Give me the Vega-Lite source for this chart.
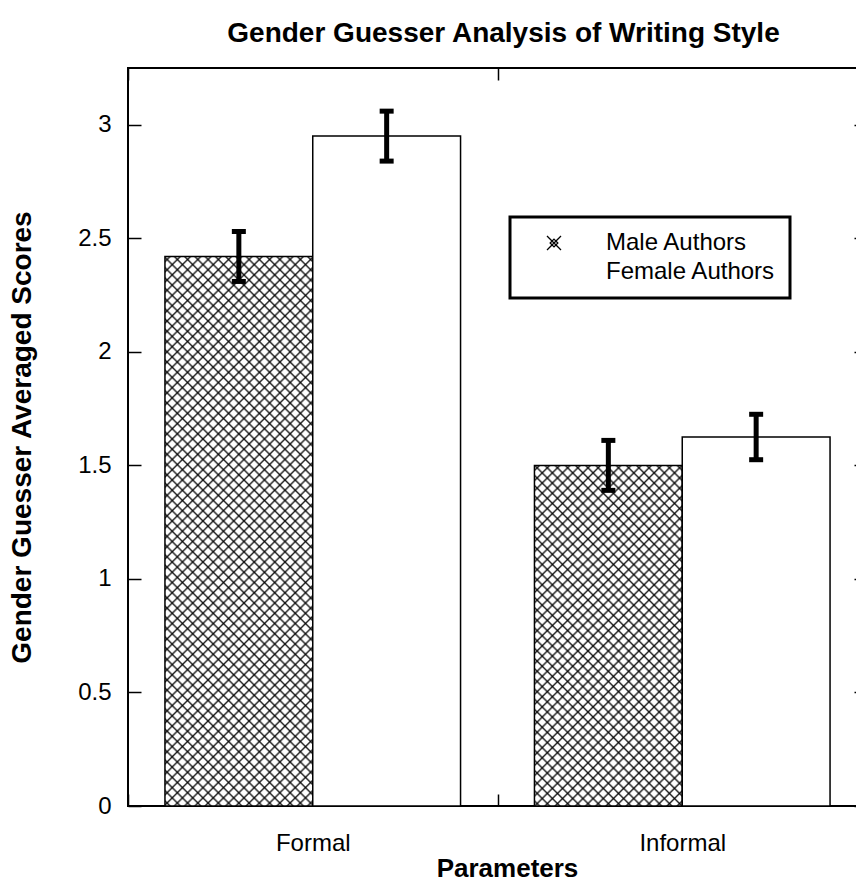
{
  "$schema": "https://vega.github.io/schema/vega-lite/v6.json",
  "width": 739,
  "height": 738,
  "autosize": {"type": "none"},
  "padding": {"left": 128, "top": 68, "right": -11, "bottom": 85},
  "background": "white",
  "config": {
    "font": "Liberation Sans",
    "view": {"stroke": "black", "strokeWidth": 2},
    "axis": {"grid": false, "domain": false},
    "legend": {"strokeWidth": 3}
  },
  "title": {"text": "Gender Guesser Analysis of Writing Style", "fontSize": 28, "fontWeight": "bold", "color": "black", "anchor": "middle", "frame": "group", "offset": 25, "baseline": "alphabetic", "dx": 6, "dy": 28},
  "data": {"values": [
    {"Param": "Formal", "Gender": "Male Authors", "Score": 2.42, "Lo": 2.31, "Hi": 2.53},
    {"Param": "Formal", "Gender": "Female Authors", "Score": 2.95, "Lo": 2.84, "Hi": 3.06},
    {"Param": "Informal", "Gender": "Male Authors", "Score": 1.5, "Lo": 1.39, "Hi": 1.61},
    {"Param": "Informal", "Gender": "Female Authors", "Score": 1.625, "Lo": 1.525, "Hi": 1.725}
  ]},
  "encoding": {
    "x": {"field": "Param", "type": "nominal", "scale": {"paddingInner": 0, "paddingOuter": 0}, "axis": null},
    "xOffset": {"field": "Gender", "type": "nominal", "scale": {"domain": ["Male Authors", "Female Authors"], "paddingInner": 0, "paddingOuter": 0.25}},
    "y": {"field": "Score", "type": "quantitative", "scale": {"domain": [0, 3.25], "nice": false}, "axis": null}
  },
  "layer": [
    {
      "mark": {"type": "bar", "fill": "white", "stroke": "black", "strokeWidth": 1.5},
      "encoding": {
        "x": {"field": "Param", "type": "nominal", "scale": {"paddingInner": 0, "paddingOuter": 0},
          "axis": {"orient": "bottom", "tickBand": "extent", "tickSize": -12, "tickWidth": 1.5, "tickColor": "black", "labelFontSize": 24, "labelColor": "black", "labelPadding": 37, "labelAngle": 0, "title": "Parameters", "titleFontSize": 26, "titleFontWeight": "bold", "titleColor": "black", "titlePadding": 0, "titleX": 379}},
        "y": {"field": "Score", "type": "quantitative", "scale": {"domain": [0, 3.25], "nice": false},
          "axis": {"orient": "left", "values": [0, 0.5, 1, 1.5, 2, 2.5, 3], "format": "~g", "tickSize": -13, "tickWidth": 1.5, "tickColor": "black", "labelFontSize": 24, "labelColor": "black", "labelPadding": 30, "labelOverlap": false, "labelFlush": false, "title": "Gender Guesser Averaged Scores", "titleFontSize": 28, "titleFontWeight": "bold", "titleColor": "black", "titlePadding": 41}}
      }
    },
    {
      "transform": [{"filter": "datum.Gender == 'Male Authors' && datum.Param == 'Formal'"}],
      "mark": {"type": "bar", "strokeWidth": 0, "fill": {"gradient": "linear", "x1": 0, "y1": 0, "x2": 0.31827, "y2": 1.18335, "stops": [
{"offset":0.0044,"color":"rgba(0,0,0,0)"},{"offset":0.0074,"color":"rgba(0,0,0,0.85)"},{"offset":0.0104,"color":"rgba(0,0,0,0)"},
{"offset":0.0191,"color":"rgba(0,0,0,0)"},{"offset":0.0221,"color":"rgba(0,0,0,0.85)"},{"offset":0.0251,"color":"rgba(0,0,0,0)"},
{"offset":0.0338,"color":"rgba(0,0,0,0)"},{"offset":0.0368,"color":"rgba(0,0,0,0.85)"},{"offset":0.0398,"color":"rgba(0,0,0,0)"},
{"offset":0.0485,"color":"rgba(0,0,0,0)"},{"offset":0.0515,"color":"rgba(0,0,0,0.85)"},{"offset":0.0545,"color":"rgba(0,0,0,0)"},
{"offset":0.0632,"color":"rgba(0,0,0,0)"},{"offset":0.0662,"color":"rgba(0,0,0,0.85)"},{"offset":0.0692,"color":"rgba(0,0,0,0)"},
{"offset":0.0779,"color":"rgba(0,0,0,0)"},{"offset":0.0809,"color":"rgba(0,0,0,0.85)"},{"offset":0.0839,"color":"rgba(0,0,0,0)"},
{"offset":0.0926,"color":"rgba(0,0,0,0)"},{"offset":0.0956,"color":"rgba(0,0,0,0.85)"},{"offset":0.0986,"color":"rgba(0,0,0,0)"},
{"offset":0.1073,"color":"rgba(0,0,0,0)"},{"offset":0.1103,"color":"rgba(0,0,0,0.85)"},{"offset":0.1133,"color":"rgba(0,0,0,0)"},
{"offset":0.1220,"color":"rgba(0,0,0,0)"},{"offset":0.1250,"color":"rgba(0,0,0,0.85)"},{"offset":0.1280,"color":"rgba(0,0,0,0)"},
{"offset":0.1367,"color":"rgba(0,0,0,0)"},{"offset":0.1397,"color":"rgba(0,0,0,0.85)"},{"offset":0.1427,"color":"rgba(0,0,0,0)"},
{"offset":0.1514,"color":"rgba(0,0,0,0)"},{"offset":0.1544,"color":"rgba(0,0,0,0.85)"},{"offset":0.1574,"color":"rgba(0,0,0,0)"},
{"offset":0.1661,"color":"rgba(0,0,0,0)"},{"offset":0.1691,"color":"rgba(0,0,0,0.85)"},{"offset":0.1721,"color":"rgba(0,0,0,0)"},
{"offset":0.1808,"color":"rgba(0,0,0,0)"},{"offset":0.1838,"color":"rgba(0,0,0,0.85)"},{"offset":0.1868,"color":"rgba(0,0,0,0)"},
{"offset":0.1955,"color":"rgba(0,0,0,0)"},{"offset":0.1985,"color":"rgba(0,0,0,0.85)"},{"offset":0.2015,"color":"rgba(0,0,0,0)"},
{"offset":0.2102,"color":"rgba(0,0,0,0)"},{"offset":0.2132,"color":"rgba(0,0,0,0.85)"},{"offset":0.2162,"color":"rgba(0,0,0,0)"},
{"offset":0.2249,"color":"rgba(0,0,0,0)"},{"offset":0.2279,"color":"rgba(0,0,0,0.85)"},{"offset":0.2309,"color":"rgba(0,0,0,0)"},
{"offset":0.2396,"color":"rgba(0,0,0,0)"},{"offset":0.2426,"color":"rgba(0,0,0,0.85)"},{"offset":0.2456,"color":"rgba(0,0,0,0)"},
{"offset":0.2544,"color":"rgba(0,0,0,0)"},{"offset":0.2574,"color":"rgba(0,0,0,0.85)"},{"offset":0.2604,"color":"rgba(0,0,0,0)"},
{"offset":0.2691,"color":"rgba(0,0,0,0)"},{"offset":0.2721,"color":"rgba(0,0,0,0.85)"},{"offset":0.2751,"color":"rgba(0,0,0,0)"},
{"offset":0.2838,"color":"rgba(0,0,0,0)"},{"offset":0.2868,"color":"rgba(0,0,0,0.85)"},{"offset":0.2898,"color":"rgba(0,0,0,0)"},
{"offset":0.2985,"color":"rgba(0,0,0,0)"},{"offset":0.3015,"color":"rgba(0,0,0,0.85)"},{"offset":0.3045,"color":"rgba(0,0,0,0)"},
{"offset":0.3132,"color":"rgba(0,0,0,0)"},{"offset":0.3162,"color":"rgba(0,0,0,0.85)"},{"offset":0.3192,"color":"rgba(0,0,0,0)"},
{"offset":0.3279,"color":"rgba(0,0,0,0)"},{"offset":0.3309,"color":"rgba(0,0,0,0.85)"},{"offset":0.3339,"color":"rgba(0,0,0,0)"},
{"offset":0.3426,"color":"rgba(0,0,0,0)"},{"offset":0.3456,"color":"rgba(0,0,0,0.85)"},{"offset":0.3486,"color":"rgba(0,0,0,0)"},
{"offset":0.3573,"color":"rgba(0,0,0,0)"},{"offset":0.3603,"color":"rgba(0,0,0,0.85)"},{"offset":0.3633,"color":"rgba(0,0,0,0)"},
{"offset":0.3720,"color":"rgba(0,0,0,0)"},{"offset":0.3750,"color":"rgba(0,0,0,0.85)"},{"offset":0.3780,"color":"rgba(0,0,0,0)"},
{"offset":0.3867,"color":"rgba(0,0,0,0)"},{"offset":0.3897,"color":"rgba(0,0,0,0.85)"},{"offset":0.3927,"color":"rgba(0,0,0,0)"},
{"offset":0.4014,"color":"rgba(0,0,0,0)"},{"offset":0.4044,"color":"rgba(0,0,0,0.85)"},{"offset":0.4074,"color":"rgba(0,0,0,0)"},
{"offset":0.4161,"color":"rgba(0,0,0,0)"},{"offset":0.4191,"color":"rgba(0,0,0,0.85)"},{"offset":0.4221,"color":"rgba(0,0,0,0)"},
{"offset":0.4308,"color":"rgba(0,0,0,0)"},{"offset":0.4338,"color":"rgba(0,0,0,0.85)"},{"offset":0.4368,"color":"rgba(0,0,0,0)"},
{"offset":0.4455,"color":"rgba(0,0,0,0)"},{"offset":0.4485,"color":"rgba(0,0,0,0.85)"},{"offset":0.4515,"color":"rgba(0,0,0,0)"},
{"offset":0.4602,"color":"rgba(0,0,0,0)"},{"offset":0.4632,"color":"rgba(0,0,0,0.85)"},{"offset":0.4662,"color":"rgba(0,0,0,0)"},
{"offset":0.4749,"color":"rgba(0,0,0,0)"},{"offset":0.4779,"color":"rgba(0,0,0,0.85)"},{"offset":0.4809,"color":"rgba(0,0,0,0)"},
{"offset":0.4896,"color":"rgba(0,0,0,0)"},{"offset":0.4926,"color":"rgba(0,0,0,0.85)"},{"offset":0.4956,"color":"rgba(0,0,0,0)"},
{"offset":0.5044,"color":"rgba(0,0,0,0)"},{"offset":0.5074,"color":"rgba(0,0,0,0.85)"},{"offset":0.5104,"color":"rgba(0,0,0,0)"},
{"offset":0.5191,"color":"rgba(0,0,0,0)"},{"offset":0.5221,"color":"rgba(0,0,0,0.85)"},{"offset":0.5251,"color":"rgba(0,0,0,0)"},
{"offset":0.5338,"color":"rgba(0,0,0,0)"},{"offset":0.5368,"color":"rgba(0,0,0,0.85)"},{"offset":0.5398,"color":"rgba(0,0,0,0)"},
{"offset":0.5485,"color":"rgba(0,0,0,0)"},{"offset":0.5515,"color":"rgba(0,0,0,0.85)"},{"offset":0.5545,"color":"rgba(0,0,0,0)"},
{"offset":0.5632,"color":"rgba(0,0,0,0)"},{"offset":0.5662,"color":"rgba(0,0,0,0.85)"},{"offset":0.5692,"color":"rgba(0,0,0,0)"},
{"offset":0.5779,"color":"rgba(0,0,0,0)"},{"offset":0.5809,"color":"rgba(0,0,0,0.85)"},{"offset":0.5839,"color":"rgba(0,0,0,0)"},
{"offset":0.5926,"color":"rgba(0,0,0,0)"},{"offset":0.5956,"color":"rgba(0,0,0,0.85)"},{"offset":0.5986,"color":"rgba(0,0,0,0)"},
{"offset":0.6073,"color":"rgba(0,0,0,0)"},{"offset":0.6103,"color":"rgba(0,0,0,0.85)"},{"offset":0.6133,"color":"rgba(0,0,0,0)"},
{"offset":0.6220,"color":"rgba(0,0,0,0)"},{"offset":0.6250,"color":"rgba(0,0,0,0.85)"},{"offset":0.6280,"color":"rgba(0,0,0,0)"},
{"offset":0.6367,"color":"rgba(0,0,0,0)"},{"offset":0.6397,"color":"rgba(0,0,0,0.85)"},{"offset":0.6427,"color":"rgba(0,0,0,0)"},
{"offset":0.6514,"color":"rgba(0,0,0,0)"},{"offset":0.6544,"color":"rgba(0,0,0,0.85)"},{"offset":0.6574,"color":"rgba(0,0,0,0)"},
{"offset":0.6661,"color":"rgba(0,0,0,0)"},{"offset":0.6691,"color":"rgba(0,0,0,0.85)"},{"offset":0.6721,"color":"rgba(0,0,0,0)"},
{"offset":0.6808,"color":"rgba(0,0,0,0)"},{"offset":0.6838,"color":"rgba(0,0,0,0.85)"},{"offset":0.6868,"color":"rgba(0,0,0,0)"},
{"offset":0.6955,"color":"rgba(0,0,0,0)"},{"offset":0.6985,"color":"rgba(0,0,0,0.85)"},{"offset":0.7015,"color":"rgba(0,0,0,0)"},
{"offset":0.7102,"color":"rgba(0,0,0,0)"},{"offset":0.7132,"color":"rgba(0,0,0,0.85)"},{"offset":0.7162,"color":"rgba(0,0,0,0)"},
{"offset":0.7249,"color":"rgba(0,0,0,0)"},{"offset":0.7279,"color":"rgba(0,0,0,0.85)"},{"offset":0.7309,"color":"rgba(0,0,0,0)"},
{"offset":0.7396,"color":"rgba(0,0,0,0)"},{"offset":0.7426,"color":"rgba(0,0,0,0.85)"},{"offset":0.7456,"color":"rgba(0,0,0,0)"},
{"offset":0.7544,"color":"rgba(0,0,0,0)"},{"offset":0.7574,"color":"rgba(0,0,0,0.85)"},{"offset":0.7604,"color":"rgba(0,0,0,0)"},
{"offset":0.7691,"color":"rgba(0,0,0,0)"},{"offset":0.7721,"color":"rgba(0,0,0,0.85)"},{"offset":0.7751,"color":"rgba(0,0,0,0)"},
{"offset":0.7838,"color":"rgba(0,0,0,0)"},{"offset":0.7868,"color":"rgba(0,0,0,0.85)"},{"offset":0.7898,"color":"rgba(0,0,0,0)"},
{"offset":0.7985,"color":"rgba(0,0,0,0)"},{"offset":0.8015,"color":"rgba(0,0,0,0.85)"},{"offset":0.8045,"color":"rgba(0,0,0,0)"},
{"offset":0.8132,"color":"rgba(0,0,0,0)"},{"offset":0.8162,"color":"rgba(0,0,0,0.85)"},{"offset":0.8192,"color":"rgba(0,0,0,0)"},
{"offset":0.8279,"color":"rgba(0,0,0,0)"},{"offset":0.8309,"color":"rgba(0,0,0,0.85)"},{"offset":0.8339,"color":"rgba(0,0,0,0)"},
{"offset":0.8426,"color":"rgba(0,0,0,0)"},{"offset":0.8456,"color":"rgba(0,0,0,0.85)"},{"offset":0.8486,"color":"rgba(0,0,0,0)"},
{"offset":0.8573,"color":"rgba(0,0,0,0)"},{"offset":0.8603,"color":"rgba(0,0,0,0.85)"},{"offset":0.8633,"color":"rgba(0,0,0,0)"},
{"offset":0.8720,"color":"rgba(0,0,0,0)"},{"offset":0.8750,"color":"rgba(0,0,0,0.85)"},{"offset":0.8780,"color":"rgba(0,0,0,0)"},
{"offset":0.8867,"color":"rgba(0,0,0,0)"},{"offset":0.8897,"color":"rgba(0,0,0,0.85)"},{"offset":0.8927,"color":"rgba(0,0,0,0)"},
{"offset":0.9014,"color":"rgba(0,0,0,0)"},{"offset":0.9044,"color":"rgba(0,0,0,0.85)"},{"offset":0.9074,"color":"rgba(0,0,0,0)"},
{"offset":0.9161,"color":"rgba(0,0,0,0)"},{"offset":0.9191,"color":"rgba(0,0,0,0.85)"},{"offset":0.9221,"color":"rgba(0,0,0,0)"},
{"offset":0.9308,"color":"rgba(0,0,0,0)"},{"offset":0.9338,"color":"rgba(0,0,0,0.85)"},{"offset":0.9368,"color":"rgba(0,0,0,0)"},
{"offset":0.9455,"color":"rgba(0,0,0,0)"},{"offset":0.9485,"color":"rgba(0,0,0,0.85)"},{"offset":0.9515,"color":"rgba(0,0,0,0)"},
{"offset":0.9602,"color":"rgba(0,0,0,0)"},{"offset":0.9632,"color":"rgba(0,0,0,0.85)"},{"offset":0.9662,"color":"rgba(0,0,0,0)"},
{"offset":0.9749,"color":"rgba(0,0,0,0)"},{"offset":0.9779,"color":"rgba(0,0,0,0.85)"},{"offset":0.9809,"color":"rgba(0,0,0,0)"},
{"offset":0.9896,"color":"rgba(0,0,0,0)"},{"offset":0.9926,"color":"rgba(0,0,0,0.85)"},{"offset":0.9956,"color":"rgba(0,0,0,0)"}
      ]}}
    },
    {
      "transform": [{"filter": "datum.Gender == 'Male Authors' && datum.Param == 'Formal'"}],
      "mark": {"type": "bar", "strokeWidth": 0, "fill": {"gradient": "linear", "x1": 0, "y1": 1, "x2": 0.31827, "y2": -0.18335, "stops": [
{"offset":0.0044,"color":"rgba(0,0,0,0)"},{"offset":0.0074,"color":"rgba(0,0,0,0.85)"},{"offset":0.0104,"color":"rgba(0,0,0,0)"},
{"offset":0.0191,"color":"rgba(0,0,0,0)"},{"offset":0.0221,"color":"rgba(0,0,0,0.85)"},{"offset":0.0251,"color":"rgba(0,0,0,0)"},
{"offset":0.0338,"color":"rgba(0,0,0,0)"},{"offset":0.0368,"color":"rgba(0,0,0,0.85)"},{"offset":0.0398,"color":"rgba(0,0,0,0)"},
{"offset":0.0485,"color":"rgba(0,0,0,0)"},{"offset":0.0515,"color":"rgba(0,0,0,0.85)"},{"offset":0.0545,"color":"rgba(0,0,0,0)"},
{"offset":0.0632,"color":"rgba(0,0,0,0)"},{"offset":0.0662,"color":"rgba(0,0,0,0.85)"},{"offset":0.0692,"color":"rgba(0,0,0,0)"},
{"offset":0.0779,"color":"rgba(0,0,0,0)"},{"offset":0.0809,"color":"rgba(0,0,0,0.85)"},{"offset":0.0839,"color":"rgba(0,0,0,0)"},
{"offset":0.0926,"color":"rgba(0,0,0,0)"},{"offset":0.0956,"color":"rgba(0,0,0,0.85)"},{"offset":0.0986,"color":"rgba(0,0,0,0)"},
{"offset":0.1073,"color":"rgba(0,0,0,0)"},{"offset":0.1103,"color":"rgba(0,0,0,0.85)"},{"offset":0.1133,"color":"rgba(0,0,0,0)"},
{"offset":0.1220,"color":"rgba(0,0,0,0)"},{"offset":0.1250,"color":"rgba(0,0,0,0.85)"},{"offset":0.1280,"color":"rgba(0,0,0,0)"},
{"offset":0.1367,"color":"rgba(0,0,0,0)"},{"offset":0.1397,"color":"rgba(0,0,0,0.85)"},{"offset":0.1427,"color":"rgba(0,0,0,0)"},
{"offset":0.1514,"color":"rgba(0,0,0,0)"},{"offset":0.1544,"color":"rgba(0,0,0,0.85)"},{"offset":0.1574,"color":"rgba(0,0,0,0)"},
{"offset":0.1661,"color":"rgba(0,0,0,0)"},{"offset":0.1691,"color":"rgba(0,0,0,0.85)"},{"offset":0.1721,"color":"rgba(0,0,0,0)"},
{"offset":0.1808,"color":"rgba(0,0,0,0)"},{"offset":0.1838,"color":"rgba(0,0,0,0.85)"},{"offset":0.1868,"color":"rgba(0,0,0,0)"},
{"offset":0.1955,"color":"rgba(0,0,0,0)"},{"offset":0.1985,"color":"rgba(0,0,0,0.85)"},{"offset":0.2015,"color":"rgba(0,0,0,0)"},
{"offset":0.2102,"color":"rgba(0,0,0,0)"},{"offset":0.2132,"color":"rgba(0,0,0,0.85)"},{"offset":0.2162,"color":"rgba(0,0,0,0)"},
{"offset":0.2249,"color":"rgba(0,0,0,0)"},{"offset":0.2279,"color":"rgba(0,0,0,0.85)"},{"offset":0.2309,"color":"rgba(0,0,0,0)"},
{"offset":0.2396,"color":"rgba(0,0,0,0)"},{"offset":0.2426,"color":"rgba(0,0,0,0.85)"},{"offset":0.2456,"color":"rgba(0,0,0,0)"},
{"offset":0.2544,"color":"rgba(0,0,0,0)"},{"offset":0.2574,"color":"rgba(0,0,0,0.85)"},{"offset":0.2604,"color":"rgba(0,0,0,0)"},
{"offset":0.2691,"color":"rgba(0,0,0,0)"},{"offset":0.2721,"color":"rgba(0,0,0,0.85)"},{"offset":0.2751,"color":"rgba(0,0,0,0)"},
{"offset":0.2838,"color":"rgba(0,0,0,0)"},{"offset":0.2868,"color":"rgba(0,0,0,0.85)"},{"offset":0.2898,"color":"rgba(0,0,0,0)"},
{"offset":0.2985,"color":"rgba(0,0,0,0)"},{"offset":0.3015,"color":"rgba(0,0,0,0.85)"},{"offset":0.3045,"color":"rgba(0,0,0,0)"},
{"offset":0.3132,"color":"rgba(0,0,0,0)"},{"offset":0.3162,"color":"rgba(0,0,0,0.85)"},{"offset":0.3192,"color":"rgba(0,0,0,0)"},
{"offset":0.3279,"color":"rgba(0,0,0,0)"},{"offset":0.3309,"color":"rgba(0,0,0,0.85)"},{"offset":0.3339,"color":"rgba(0,0,0,0)"},
{"offset":0.3426,"color":"rgba(0,0,0,0)"},{"offset":0.3456,"color":"rgba(0,0,0,0.85)"},{"offset":0.3486,"color":"rgba(0,0,0,0)"},
{"offset":0.3573,"color":"rgba(0,0,0,0)"},{"offset":0.3603,"color":"rgba(0,0,0,0.85)"},{"offset":0.3633,"color":"rgba(0,0,0,0)"},
{"offset":0.3720,"color":"rgba(0,0,0,0)"},{"offset":0.3750,"color":"rgba(0,0,0,0.85)"},{"offset":0.3780,"color":"rgba(0,0,0,0)"},
{"offset":0.3867,"color":"rgba(0,0,0,0)"},{"offset":0.3897,"color":"rgba(0,0,0,0.85)"},{"offset":0.3927,"color":"rgba(0,0,0,0)"},
{"offset":0.4014,"color":"rgba(0,0,0,0)"},{"offset":0.4044,"color":"rgba(0,0,0,0.85)"},{"offset":0.4074,"color":"rgba(0,0,0,0)"},
{"offset":0.4161,"color":"rgba(0,0,0,0)"},{"offset":0.4191,"color":"rgba(0,0,0,0.85)"},{"offset":0.4221,"color":"rgba(0,0,0,0)"},
{"offset":0.4308,"color":"rgba(0,0,0,0)"},{"offset":0.4338,"color":"rgba(0,0,0,0.85)"},{"offset":0.4368,"color":"rgba(0,0,0,0)"},
{"offset":0.4455,"color":"rgba(0,0,0,0)"},{"offset":0.4485,"color":"rgba(0,0,0,0.85)"},{"offset":0.4515,"color":"rgba(0,0,0,0)"},
{"offset":0.4602,"color":"rgba(0,0,0,0)"},{"offset":0.4632,"color":"rgba(0,0,0,0.85)"},{"offset":0.4662,"color":"rgba(0,0,0,0)"},
{"offset":0.4749,"color":"rgba(0,0,0,0)"},{"offset":0.4779,"color":"rgba(0,0,0,0.85)"},{"offset":0.4809,"color":"rgba(0,0,0,0)"},
{"offset":0.4896,"color":"rgba(0,0,0,0)"},{"offset":0.4926,"color":"rgba(0,0,0,0.85)"},{"offset":0.4956,"color":"rgba(0,0,0,0)"},
{"offset":0.5044,"color":"rgba(0,0,0,0)"},{"offset":0.5074,"color":"rgba(0,0,0,0.85)"},{"offset":0.5104,"color":"rgba(0,0,0,0)"},
{"offset":0.5191,"color":"rgba(0,0,0,0)"},{"offset":0.5221,"color":"rgba(0,0,0,0.85)"},{"offset":0.5251,"color":"rgba(0,0,0,0)"},
{"offset":0.5338,"color":"rgba(0,0,0,0)"},{"offset":0.5368,"color":"rgba(0,0,0,0.85)"},{"offset":0.5398,"color":"rgba(0,0,0,0)"},
{"offset":0.5485,"color":"rgba(0,0,0,0)"},{"offset":0.5515,"color":"rgba(0,0,0,0.85)"},{"offset":0.5545,"color":"rgba(0,0,0,0)"},
{"offset":0.5632,"color":"rgba(0,0,0,0)"},{"offset":0.5662,"color":"rgba(0,0,0,0.85)"},{"offset":0.5692,"color":"rgba(0,0,0,0)"},
{"offset":0.5779,"color":"rgba(0,0,0,0)"},{"offset":0.5809,"color":"rgba(0,0,0,0.85)"},{"offset":0.5839,"color":"rgba(0,0,0,0)"},
{"offset":0.5926,"color":"rgba(0,0,0,0)"},{"offset":0.5956,"color":"rgba(0,0,0,0.85)"},{"offset":0.5986,"color":"rgba(0,0,0,0)"},
{"offset":0.6073,"color":"rgba(0,0,0,0)"},{"offset":0.6103,"color":"rgba(0,0,0,0.85)"},{"offset":0.6133,"color":"rgba(0,0,0,0)"},
{"offset":0.6220,"color":"rgba(0,0,0,0)"},{"offset":0.6250,"color":"rgba(0,0,0,0.85)"},{"offset":0.6280,"color":"rgba(0,0,0,0)"},
{"offset":0.6367,"color":"rgba(0,0,0,0)"},{"offset":0.6397,"color":"rgba(0,0,0,0.85)"},{"offset":0.6427,"color":"rgba(0,0,0,0)"},
{"offset":0.6514,"color":"rgba(0,0,0,0)"},{"offset":0.6544,"color":"rgba(0,0,0,0.85)"},{"offset":0.6574,"color":"rgba(0,0,0,0)"},
{"offset":0.6661,"color":"rgba(0,0,0,0)"},{"offset":0.6691,"color":"rgba(0,0,0,0.85)"},{"offset":0.6721,"color":"rgba(0,0,0,0)"},
{"offset":0.6808,"color":"rgba(0,0,0,0)"},{"offset":0.6838,"color":"rgba(0,0,0,0.85)"},{"offset":0.6868,"color":"rgba(0,0,0,0)"},
{"offset":0.6955,"color":"rgba(0,0,0,0)"},{"offset":0.6985,"color":"rgba(0,0,0,0.85)"},{"offset":0.7015,"color":"rgba(0,0,0,0)"},
{"offset":0.7102,"color":"rgba(0,0,0,0)"},{"offset":0.7132,"color":"rgba(0,0,0,0.85)"},{"offset":0.7162,"color":"rgba(0,0,0,0)"},
{"offset":0.7249,"color":"rgba(0,0,0,0)"},{"offset":0.7279,"color":"rgba(0,0,0,0.85)"},{"offset":0.7309,"color":"rgba(0,0,0,0)"},
{"offset":0.7396,"color":"rgba(0,0,0,0)"},{"offset":0.7426,"color":"rgba(0,0,0,0.85)"},{"offset":0.7456,"color":"rgba(0,0,0,0)"},
{"offset":0.7544,"color":"rgba(0,0,0,0)"},{"offset":0.7574,"color":"rgba(0,0,0,0.85)"},{"offset":0.7604,"color":"rgba(0,0,0,0)"},
{"offset":0.7691,"color":"rgba(0,0,0,0)"},{"offset":0.7721,"color":"rgba(0,0,0,0.85)"},{"offset":0.7751,"color":"rgba(0,0,0,0)"},
{"offset":0.7838,"color":"rgba(0,0,0,0)"},{"offset":0.7868,"color":"rgba(0,0,0,0.85)"},{"offset":0.7898,"color":"rgba(0,0,0,0)"},
{"offset":0.7985,"color":"rgba(0,0,0,0)"},{"offset":0.8015,"color":"rgba(0,0,0,0.85)"},{"offset":0.8045,"color":"rgba(0,0,0,0)"},
{"offset":0.8132,"color":"rgba(0,0,0,0)"},{"offset":0.8162,"color":"rgba(0,0,0,0.85)"},{"offset":0.8192,"color":"rgba(0,0,0,0)"},
{"offset":0.8279,"color":"rgba(0,0,0,0)"},{"offset":0.8309,"color":"rgba(0,0,0,0.85)"},{"offset":0.8339,"color":"rgba(0,0,0,0)"},
{"offset":0.8426,"color":"rgba(0,0,0,0)"},{"offset":0.8456,"color":"rgba(0,0,0,0.85)"},{"offset":0.8486,"color":"rgba(0,0,0,0)"},
{"offset":0.8573,"color":"rgba(0,0,0,0)"},{"offset":0.8603,"color":"rgba(0,0,0,0.85)"},{"offset":0.8633,"color":"rgba(0,0,0,0)"},
{"offset":0.8720,"color":"rgba(0,0,0,0)"},{"offset":0.8750,"color":"rgba(0,0,0,0.85)"},{"offset":0.8780,"color":"rgba(0,0,0,0)"},
{"offset":0.8867,"color":"rgba(0,0,0,0)"},{"offset":0.8897,"color":"rgba(0,0,0,0.85)"},{"offset":0.8927,"color":"rgba(0,0,0,0)"},
{"offset":0.9014,"color":"rgba(0,0,0,0)"},{"offset":0.9044,"color":"rgba(0,0,0,0.85)"},{"offset":0.9074,"color":"rgba(0,0,0,0)"},
{"offset":0.9161,"color":"rgba(0,0,0,0)"},{"offset":0.9191,"color":"rgba(0,0,0,0.85)"},{"offset":0.9221,"color":"rgba(0,0,0,0)"},
{"offset":0.9308,"color":"rgba(0,0,0,0)"},{"offset":0.9338,"color":"rgba(0,0,0,0.85)"},{"offset":0.9368,"color":"rgba(0,0,0,0)"},
{"offset":0.9455,"color":"rgba(0,0,0,0)"},{"offset":0.9485,"color":"rgba(0,0,0,0.85)"},{"offset":0.9515,"color":"rgba(0,0,0,0)"},
{"offset":0.9602,"color":"rgba(0,0,0,0)"},{"offset":0.9632,"color":"rgba(0,0,0,0.85)"},{"offset":0.9662,"color":"rgba(0,0,0,0)"},
{"offset":0.9749,"color":"rgba(0,0,0,0)"},{"offset":0.9779,"color":"rgba(0,0,0,0.85)"},{"offset":0.9809,"color":"rgba(0,0,0,0)"},
{"offset":0.9896,"color":"rgba(0,0,0,0)"},{"offset":0.9926,"color":"rgba(0,0,0,0.85)"},{"offset":0.9956,"color":"rgba(0,0,0,0)"}
      ]}}
    },
    {
      "transform": [{"filter": "datum.Gender == 'Male Authors' && datum.Param == 'Informal'"}],
      "mark": {"type": "bar", "strokeWidth": 0, "fill": {"gradient": "linear", "x1": 0, "y1": 0, "x2": 0.52361, "y2": 1.20671, "stops": [
{"offset":0.0061,"color":"rgba(0,0,0,0)"},{"offset":0.0104,"color":"rgba(0,0,0,0.85)"},{"offset":0.0147,"color":"rgba(0,0,0,0)"},
{"offset":0.0270,"color":"rgba(0,0,0,0)"},{"offset":0.0313,"color":"rgba(0,0,0,0.85)"},{"offset":0.0356,"color":"rgba(0,0,0,0)"},
{"offset":0.0478,"color":"rgba(0,0,0,0)"},{"offset":0.0521,"color":"rgba(0,0,0,0.85)"},{"offset":0.0564,"color":"rgba(0,0,0,0)"},
{"offset":0.0686,"color":"rgba(0,0,0,0)"},{"offset":0.0729,"color":"rgba(0,0,0,0.85)"},{"offset":0.0772,"color":"rgba(0,0,0,0)"},
{"offset":0.0895,"color":"rgba(0,0,0,0)"},{"offset":0.0938,"color":"rgba(0,0,0,0.85)"},{"offset":0.0981,"color":"rgba(0,0,0,0)"},
{"offset":0.1103,"color":"rgba(0,0,0,0)"},{"offset":0.1146,"color":"rgba(0,0,0,0.85)"},{"offset":0.1189,"color":"rgba(0,0,0,0)"},
{"offset":0.1311,"color":"rgba(0,0,0,0)"},{"offset":0.1354,"color":"rgba(0,0,0,0.85)"},{"offset":0.1397,"color":"rgba(0,0,0,0)"},
{"offset":0.1520,"color":"rgba(0,0,0,0)"},{"offset":0.1563,"color":"rgba(0,0,0,0.85)"},{"offset":0.1606,"color":"rgba(0,0,0,0)"},
{"offset":0.1728,"color":"rgba(0,0,0,0)"},{"offset":0.1771,"color":"rgba(0,0,0,0.85)"},{"offset":0.1814,"color":"rgba(0,0,0,0)"},
{"offset":0.1936,"color":"rgba(0,0,0,0)"},{"offset":0.1979,"color":"rgba(0,0,0,0.85)"},{"offset":0.2022,"color":"rgba(0,0,0,0)"},
{"offset":0.2145,"color":"rgba(0,0,0,0)"},{"offset":0.2188,"color":"rgba(0,0,0,0.85)"},{"offset":0.2231,"color":"rgba(0,0,0,0)"},
{"offset":0.2353,"color":"rgba(0,0,0,0)"},{"offset":0.2396,"color":"rgba(0,0,0,0.85)"},{"offset":0.2439,"color":"rgba(0,0,0,0)"},
{"offset":0.2561,"color":"rgba(0,0,0,0)"},{"offset":0.2604,"color":"rgba(0,0,0,0.85)"},{"offset":0.2647,"color":"rgba(0,0,0,0)"},
{"offset":0.2770,"color":"rgba(0,0,0,0)"},{"offset":0.2813,"color":"rgba(0,0,0,0.85)"},{"offset":0.2856,"color":"rgba(0,0,0,0)"},
{"offset":0.2978,"color":"rgba(0,0,0,0)"},{"offset":0.3021,"color":"rgba(0,0,0,0.85)"},{"offset":0.3064,"color":"rgba(0,0,0,0)"},
{"offset":0.3186,"color":"rgba(0,0,0,0)"},{"offset":0.3229,"color":"rgba(0,0,0,0.85)"},{"offset":0.3272,"color":"rgba(0,0,0,0)"},
{"offset":0.3395,"color":"rgba(0,0,0,0)"},{"offset":0.3438,"color":"rgba(0,0,0,0.85)"},{"offset":0.3481,"color":"rgba(0,0,0,0)"},
{"offset":0.3603,"color":"rgba(0,0,0,0)"},{"offset":0.3646,"color":"rgba(0,0,0,0.85)"},{"offset":0.3689,"color":"rgba(0,0,0,0)"},
{"offset":0.3811,"color":"rgba(0,0,0,0)"},{"offset":0.3854,"color":"rgba(0,0,0,0.85)"},{"offset":0.3897,"color":"rgba(0,0,0,0)"},
{"offset":0.4020,"color":"rgba(0,0,0,0)"},{"offset":0.4063,"color":"rgba(0,0,0,0.85)"},{"offset":0.4106,"color":"rgba(0,0,0,0)"},
{"offset":0.4228,"color":"rgba(0,0,0,0)"},{"offset":0.4271,"color":"rgba(0,0,0,0.85)"},{"offset":0.4314,"color":"rgba(0,0,0,0)"},
{"offset":0.4436,"color":"rgba(0,0,0,0)"},{"offset":0.4479,"color":"rgba(0,0,0,0.85)"},{"offset":0.4522,"color":"rgba(0,0,0,0)"},
{"offset":0.4645,"color":"rgba(0,0,0,0)"},{"offset":0.4688,"color":"rgba(0,0,0,0.85)"},{"offset":0.4731,"color":"rgba(0,0,0,0)"},
{"offset":0.4853,"color":"rgba(0,0,0,0)"},{"offset":0.4896,"color":"rgba(0,0,0,0.85)"},{"offset":0.4939,"color":"rgba(0,0,0,0)"},
{"offset":0.5061,"color":"rgba(0,0,0,0)"},{"offset":0.5104,"color":"rgba(0,0,0,0.85)"},{"offset":0.5147,"color":"rgba(0,0,0,0)"},
{"offset":0.5270,"color":"rgba(0,0,0,0)"},{"offset":0.5313,"color":"rgba(0,0,0,0.85)"},{"offset":0.5356,"color":"rgba(0,0,0,0)"},
{"offset":0.5478,"color":"rgba(0,0,0,0)"},{"offset":0.5521,"color":"rgba(0,0,0,0.85)"},{"offset":0.5564,"color":"rgba(0,0,0,0)"},
{"offset":0.5686,"color":"rgba(0,0,0,0)"},{"offset":0.5729,"color":"rgba(0,0,0,0.85)"},{"offset":0.5772,"color":"rgba(0,0,0,0)"},
{"offset":0.5895,"color":"rgba(0,0,0,0)"},{"offset":0.5938,"color":"rgba(0,0,0,0.85)"},{"offset":0.5981,"color":"rgba(0,0,0,0)"},
{"offset":0.6103,"color":"rgba(0,0,0,0)"},{"offset":0.6146,"color":"rgba(0,0,0,0.85)"},{"offset":0.6189,"color":"rgba(0,0,0,0)"},
{"offset":0.6311,"color":"rgba(0,0,0,0)"},{"offset":0.6354,"color":"rgba(0,0,0,0.85)"},{"offset":0.6397,"color":"rgba(0,0,0,0)"},
{"offset":0.6520,"color":"rgba(0,0,0,0)"},{"offset":0.6563,"color":"rgba(0,0,0,0.85)"},{"offset":0.6606,"color":"rgba(0,0,0,0)"},
{"offset":0.6728,"color":"rgba(0,0,0,0)"},{"offset":0.6771,"color":"rgba(0,0,0,0.85)"},{"offset":0.6814,"color":"rgba(0,0,0,0)"},
{"offset":0.6936,"color":"rgba(0,0,0,0)"},{"offset":0.6979,"color":"rgba(0,0,0,0.85)"},{"offset":0.7022,"color":"rgba(0,0,0,0)"},
{"offset":0.7145,"color":"rgba(0,0,0,0)"},{"offset":0.7188,"color":"rgba(0,0,0,0.85)"},{"offset":0.7231,"color":"rgba(0,0,0,0)"},
{"offset":0.7353,"color":"rgba(0,0,0,0)"},{"offset":0.7396,"color":"rgba(0,0,0,0.85)"},{"offset":0.7439,"color":"rgba(0,0,0,0)"},
{"offset":0.7561,"color":"rgba(0,0,0,0)"},{"offset":0.7604,"color":"rgba(0,0,0,0.85)"},{"offset":0.7647,"color":"rgba(0,0,0,0)"},
{"offset":0.7770,"color":"rgba(0,0,0,0)"},{"offset":0.7813,"color":"rgba(0,0,0,0.85)"},{"offset":0.7856,"color":"rgba(0,0,0,0)"},
{"offset":0.7978,"color":"rgba(0,0,0,0)"},{"offset":0.8021,"color":"rgba(0,0,0,0.85)"},{"offset":0.8064,"color":"rgba(0,0,0,0)"},
{"offset":0.8186,"color":"rgba(0,0,0,0)"},{"offset":0.8229,"color":"rgba(0,0,0,0.85)"},{"offset":0.8272,"color":"rgba(0,0,0,0)"},
{"offset":0.8395,"color":"rgba(0,0,0,0)"},{"offset":0.8438,"color":"rgba(0,0,0,0.85)"},{"offset":0.8481,"color":"rgba(0,0,0,0)"},
{"offset":0.8603,"color":"rgba(0,0,0,0)"},{"offset":0.8646,"color":"rgba(0,0,0,0.85)"},{"offset":0.8689,"color":"rgba(0,0,0,0)"},
{"offset":0.8811,"color":"rgba(0,0,0,0)"},{"offset":0.8854,"color":"rgba(0,0,0,0.85)"},{"offset":0.8897,"color":"rgba(0,0,0,0)"},
{"offset":0.9020,"color":"rgba(0,0,0,0)"},{"offset":0.9063,"color":"rgba(0,0,0,0.85)"},{"offset":0.9106,"color":"rgba(0,0,0,0)"},
{"offset":0.9228,"color":"rgba(0,0,0,0)"},{"offset":0.9271,"color":"rgba(0,0,0,0.85)"},{"offset":0.9314,"color":"rgba(0,0,0,0)"},
{"offset":0.9436,"color":"rgba(0,0,0,0)"},{"offset":0.9479,"color":"rgba(0,0,0,0.85)"},{"offset":0.9522,"color":"rgba(0,0,0,0)"},
{"offset":0.9645,"color":"rgba(0,0,0,0)"},{"offset":0.9688,"color":"rgba(0,0,0,0.85)"},{"offset":0.9731,"color":"rgba(0,0,0,0)"},
{"offset":0.9853,"color":"rgba(0,0,0,0)"},{"offset":0.9896,"color":"rgba(0,0,0,0.85)"},{"offset":0.9939,"color":"rgba(0,0,0,0)"}
      ]}}
    },
    {
      "transform": [{"filter": "datum.Gender == 'Male Authors' && datum.Param == 'Informal'"}],
      "mark": {"type": "bar", "strokeWidth": 0, "fill": {"gradient": "linear", "x1": 0, "y1": 1, "x2": 0.52361, "y2": -0.20671, "stops": [
{"offset":0.0061,"color":"rgba(0,0,0,0)"},{"offset":0.0104,"color":"rgba(0,0,0,0.85)"},{"offset":0.0147,"color":"rgba(0,0,0,0)"},
{"offset":0.0270,"color":"rgba(0,0,0,0)"},{"offset":0.0313,"color":"rgba(0,0,0,0.85)"},{"offset":0.0356,"color":"rgba(0,0,0,0)"},
{"offset":0.0478,"color":"rgba(0,0,0,0)"},{"offset":0.0521,"color":"rgba(0,0,0,0.85)"},{"offset":0.0564,"color":"rgba(0,0,0,0)"},
{"offset":0.0686,"color":"rgba(0,0,0,0)"},{"offset":0.0729,"color":"rgba(0,0,0,0.85)"},{"offset":0.0772,"color":"rgba(0,0,0,0)"},
{"offset":0.0895,"color":"rgba(0,0,0,0)"},{"offset":0.0938,"color":"rgba(0,0,0,0.85)"},{"offset":0.0981,"color":"rgba(0,0,0,0)"},
{"offset":0.1103,"color":"rgba(0,0,0,0)"},{"offset":0.1146,"color":"rgba(0,0,0,0.85)"},{"offset":0.1189,"color":"rgba(0,0,0,0)"},
{"offset":0.1311,"color":"rgba(0,0,0,0)"},{"offset":0.1354,"color":"rgba(0,0,0,0.85)"},{"offset":0.1397,"color":"rgba(0,0,0,0)"},
{"offset":0.1520,"color":"rgba(0,0,0,0)"},{"offset":0.1563,"color":"rgba(0,0,0,0.85)"},{"offset":0.1606,"color":"rgba(0,0,0,0)"},
{"offset":0.1728,"color":"rgba(0,0,0,0)"},{"offset":0.1771,"color":"rgba(0,0,0,0.85)"},{"offset":0.1814,"color":"rgba(0,0,0,0)"},
{"offset":0.1936,"color":"rgba(0,0,0,0)"},{"offset":0.1979,"color":"rgba(0,0,0,0.85)"},{"offset":0.2022,"color":"rgba(0,0,0,0)"},
{"offset":0.2145,"color":"rgba(0,0,0,0)"},{"offset":0.2188,"color":"rgba(0,0,0,0.85)"},{"offset":0.2231,"color":"rgba(0,0,0,0)"},
{"offset":0.2353,"color":"rgba(0,0,0,0)"},{"offset":0.2396,"color":"rgba(0,0,0,0.85)"},{"offset":0.2439,"color":"rgba(0,0,0,0)"},
{"offset":0.2561,"color":"rgba(0,0,0,0)"},{"offset":0.2604,"color":"rgba(0,0,0,0.85)"},{"offset":0.2647,"color":"rgba(0,0,0,0)"},
{"offset":0.2770,"color":"rgba(0,0,0,0)"},{"offset":0.2813,"color":"rgba(0,0,0,0.85)"},{"offset":0.2856,"color":"rgba(0,0,0,0)"},
{"offset":0.2978,"color":"rgba(0,0,0,0)"},{"offset":0.3021,"color":"rgba(0,0,0,0.85)"},{"offset":0.3064,"color":"rgba(0,0,0,0)"},
{"offset":0.3186,"color":"rgba(0,0,0,0)"},{"offset":0.3229,"color":"rgba(0,0,0,0.85)"},{"offset":0.3272,"color":"rgba(0,0,0,0)"},
{"offset":0.3395,"color":"rgba(0,0,0,0)"},{"offset":0.3438,"color":"rgba(0,0,0,0.85)"},{"offset":0.3481,"color":"rgba(0,0,0,0)"},
{"offset":0.3603,"color":"rgba(0,0,0,0)"},{"offset":0.3646,"color":"rgba(0,0,0,0.85)"},{"offset":0.3689,"color":"rgba(0,0,0,0)"},
{"offset":0.3811,"color":"rgba(0,0,0,0)"},{"offset":0.3854,"color":"rgba(0,0,0,0.85)"},{"offset":0.3897,"color":"rgba(0,0,0,0)"},
{"offset":0.4020,"color":"rgba(0,0,0,0)"},{"offset":0.4063,"color":"rgba(0,0,0,0.85)"},{"offset":0.4106,"color":"rgba(0,0,0,0)"},
{"offset":0.4228,"color":"rgba(0,0,0,0)"},{"offset":0.4271,"color":"rgba(0,0,0,0.85)"},{"offset":0.4314,"color":"rgba(0,0,0,0)"},
{"offset":0.4436,"color":"rgba(0,0,0,0)"},{"offset":0.4479,"color":"rgba(0,0,0,0.85)"},{"offset":0.4522,"color":"rgba(0,0,0,0)"},
{"offset":0.4645,"color":"rgba(0,0,0,0)"},{"offset":0.4688,"color":"rgba(0,0,0,0.85)"},{"offset":0.4731,"color":"rgba(0,0,0,0)"},
{"offset":0.4853,"color":"rgba(0,0,0,0)"},{"offset":0.4896,"color":"rgba(0,0,0,0.85)"},{"offset":0.4939,"color":"rgba(0,0,0,0)"},
{"offset":0.5061,"color":"rgba(0,0,0,0)"},{"offset":0.5104,"color":"rgba(0,0,0,0.85)"},{"offset":0.5147,"color":"rgba(0,0,0,0)"},
{"offset":0.5270,"color":"rgba(0,0,0,0)"},{"offset":0.5313,"color":"rgba(0,0,0,0.85)"},{"offset":0.5356,"color":"rgba(0,0,0,0)"},
{"offset":0.5478,"color":"rgba(0,0,0,0)"},{"offset":0.5521,"color":"rgba(0,0,0,0.85)"},{"offset":0.5564,"color":"rgba(0,0,0,0)"},
{"offset":0.5686,"color":"rgba(0,0,0,0)"},{"offset":0.5729,"color":"rgba(0,0,0,0.85)"},{"offset":0.5772,"color":"rgba(0,0,0,0)"},
{"offset":0.5895,"color":"rgba(0,0,0,0)"},{"offset":0.5938,"color":"rgba(0,0,0,0.85)"},{"offset":0.5981,"color":"rgba(0,0,0,0)"},
{"offset":0.6103,"color":"rgba(0,0,0,0)"},{"offset":0.6146,"color":"rgba(0,0,0,0.85)"},{"offset":0.6189,"color":"rgba(0,0,0,0)"},
{"offset":0.6311,"color":"rgba(0,0,0,0)"},{"offset":0.6354,"color":"rgba(0,0,0,0.85)"},{"offset":0.6397,"color":"rgba(0,0,0,0)"},
{"offset":0.6520,"color":"rgba(0,0,0,0)"},{"offset":0.6563,"color":"rgba(0,0,0,0.85)"},{"offset":0.6606,"color":"rgba(0,0,0,0)"},
{"offset":0.6728,"color":"rgba(0,0,0,0)"},{"offset":0.6771,"color":"rgba(0,0,0,0.85)"},{"offset":0.6814,"color":"rgba(0,0,0,0)"},
{"offset":0.6936,"color":"rgba(0,0,0,0)"},{"offset":0.6979,"color":"rgba(0,0,0,0.85)"},{"offset":0.7022,"color":"rgba(0,0,0,0)"},
{"offset":0.7145,"color":"rgba(0,0,0,0)"},{"offset":0.7188,"color":"rgba(0,0,0,0.85)"},{"offset":0.7231,"color":"rgba(0,0,0,0)"},
{"offset":0.7353,"color":"rgba(0,0,0,0)"},{"offset":0.7396,"color":"rgba(0,0,0,0.85)"},{"offset":0.7439,"color":"rgba(0,0,0,0)"},
{"offset":0.7561,"color":"rgba(0,0,0,0)"},{"offset":0.7604,"color":"rgba(0,0,0,0.85)"},{"offset":0.7647,"color":"rgba(0,0,0,0)"},
{"offset":0.7770,"color":"rgba(0,0,0,0)"},{"offset":0.7813,"color":"rgba(0,0,0,0.85)"},{"offset":0.7856,"color":"rgba(0,0,0,0)"},
{"offset":0.7978,"color":"rgba(0,0,0,0)"},{"offset":0.8021,"color":"rgba(0,0,0,0.85)"},{"offset":0.8064,"color":"rgba(0,0,0,0)"},
{"offset":0.8186,"color":"rgba(0,0,0,0)"},{"offset":0.8229,"color":"rgba(0,0,0,0.85)"},{"offset":0.8272,"color":"rgba(0,0,0,0)"},
{"offset":0.8395,"color":"rgba(0,0,0,0)"},{"offset":0.8438,"color":"rgba(0,0,0,0.85)"},{"offset":0.8481,"color":"rgba(0,0,0,0)"},
{"offset":0.8603,"color":"rgba(0,0,0,0)"},{"offset":0.8646,"color":"rgba(0,0,0,0.85)"},{"offset":0.8689,"color":"rgba(0,0,0,0)"},
{"offset":0.8811,"color":"rgba(0,0,0,0)"},{"offset":0.8854,"color":"rgba(0,0,0,0.85)"},{"offset":0.8897,"color":"rgba(0,0,0,0)"},
{"offset":0.9020,"color":"rgba(0,0,0,0)"},{"offset":0.9063,"color":"rgba(0,0,0,0.85)"},{"offset":0.9106,"color":"rgba(0,0,0,0)"},
{"offset":0.9228,"color":"rgba(0,0,0,0)"},{"offset":0.9271,"color":"rgba(0,0,0,0.85)"},{"offset":0.9314,"color":"rgba(0,0,0,0)"},
{"offset":0.9436,"color":"rgba(0,0,0,0)"},{"offset":0.9479,"color":"rgba(0,0,0,0.85)"},{"offset":0.9522,"color":"rgba(0,0,0,0)"},
{"offset":0.9645,"color":"rgba(0,0,0,0)"},{"offset":0.9688,"color":"rgba(0,0,0,0.85)"},{"offset":0.9731,"color":"rgba(0,0,0,0)"},
{"offset":0.9853,"color":"rgba(0,0,0,0)"},{"offset":0.9896,"color":"rgba(0,0,0,0.85)"},{"offset":0.9939,"color":"rgba(0,0,0,0)"}
      ]}}
    },
    {
      "mark": {"type": "rule", "strokeWidth": 5, "color": "black"},
      "encoding": {
        "y": {"field": "Lo", "type": "quantitative", "scale": {"domain": [0, 3.25], "nice": false}, "axis": null},
        "y2": {"field": "Hi"}
      }
    },
    {
      "mark": {"type": "tick", "orient": "horizontal", "thickness": 5, "size": 14, "color": "black", "opacity": 1},
      "encoding": {
        "y": {"field": "Lo", "type": "quantitative", "scale": {"domain": [0, 3.25], "nice": false}, "axis": null}
      }
    },
    {
      "mark": {"type": "tick", "orient": "horizontal", "thickness": 5, "size": 14, "color": "black", "opacity": 1},
      "encoding": {
        "y": {"field": "Hi", "type": "quantitative", "scale": {"domain": [0, 3.25], "nice": false}, "axis": null}
      }
    },
    {
      "mark": {"type": "point", "filled": false, "opacity": 0, "shape": "M-1,-1L1,1M-1,1L1,-1M0,-0.55L0.55,0L0,0.55L-0.55,0Z"},
      "encoding": {
        "x": {"field": "Param", "type": "nominal", "scale": {"paddingInner": 0, "paddingOuter": 0},
          "axis": {"orient": "top", "tickBand": "extent", "tickSize": -12, "tickWidth": 1.5, "tickColor": "black", "labels": false, "title": null}},
        "y": {"field": "Score", "type": "quantitative", "scale": {"domain": [0, 3.25], "nice": false},
          "axis": {"orient": "right", "values": [0, 0.5, 1, 1.5, 2, 2.5, 3], "tickSize": -13, "tickWidth": 1.5, "tickColor": "black", "labels": false, "title": null}},
        "stroke": {"field": "Gender", "type": "nominal",
          "scale": {"domain": ["Male Authors", "Female Authors"], "range": ["black", "rgba(0,0,0,0)"]},
          "legend": {"orient": "none", "legendX": 382, "legendY": 149, "title": null, "padding": 14, "rowPadding": 5,
            "strokeColor": "black", "fillColor": "white",
            "labelFontSize": 24, "labelColor": "black", "labelLimit": 400,
            "symbolType": "M-1,-1L1,1M-1,1L1,-1M0,-0.55L0.55,0L0,0.55L-0.55,0Z", "symbolSize": 196, "symbolStrokeWidth": 1.3,
            "symbolFillColor": "rgba(0,0,0,0)", "symbolOffset": 18, "labelOffset": 40, "symbolOpacity": 1,
            "encode": {"legend": {"enter": {"strokeWidth": {"value": 3}}, "update": {"strokeWidth": {"value": 3}}}}}}
      }
    }
  ],
  "resolve": {"axis": {"x": "independent", "y": "independent"}}
}
